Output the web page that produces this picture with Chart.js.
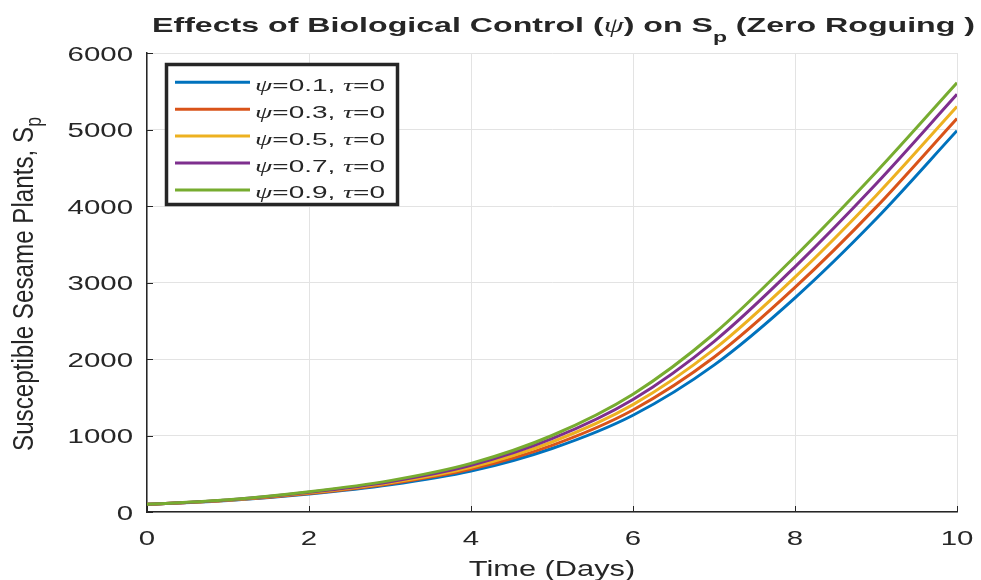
<!DOCTYPE html>
<html><head><meta charset="utf-8">
<script src="https://cdn.jsdelivr.net/npm/chart.js@4/dist/chart.umd.min.js"></script>
<style>html,body{margin:0;padding:0;background:#fff;overflow:hidden}#wrap{width:981px;height:580px;position:relative}</style>
</head><body><div id="wrap"><canvas id="c" width="981" height="580"></canvas></div>
<script>
// ---- data ----
const days = [0, 1, 2, 3, 4, 5, 6, 7, 8, 9, 10];
const sp_psi01 = [100, 150, 235, 355, 535, 830, 1265, 1920, 2800, 3830, 4985];
const sp_psi03 = [100, 152, 242, 369, 560, 872, 1334, 2022, 2935, 3982, 5145];
const sp_psi05 = [100, 155, 250, 383, 585, 915, 1403, 2125, 3070, 4135, 5300];
const sp_psi07 = [100, 158, 258, 396, 610, 958, 1471, 2228, 3205, 4288, 5460];
const sp_psi09 = [100, 160, 265, 410, 635, 1000, 1540, 2330, 3340, 4440, 5610];
const psiValues = ['0.1', '0.3', '0.5', '0.7', '0.9'];
const tauValue = '0';
const xTickValues = [0, 2, 4, 6, 8, 10];
const yTickValues = [0, 1000, 2000, 3000, 4000, 5000, 6000];
const titleParts = ['Effects of Biological Control (', '\u03C8', ') on S', 'p', ' (Zero Roguing )'];
const yTitleParts = ['Susceptible Sesame Plants, S', 'p'];
const xTitle = 'Time (Days)';

const colors = ['#0072BD', '#D95319', '#EDB120', '#7E2F8E', '#77AC30'];
const seriesValues = [sp_psi01, sp_psi03, sp_psi05, sp_psi07, sp_psi09];
const TXT = '#262626';
const SANS = '"Liberation Sans", Arial, sans-serif';
const SERIF = '"Liberation Serif", "DejaVu Serif", serif';

const datasets = seriesValues.map((vals, i) => ({
  label: '\u03C8=' + psiValues[i] + ', \u03C4=' + tauValue,
  data: days.map((d, j) => ({ x: d, y: vals[j] })),
  borderColor: colors[i],
  backgroundColor: colors[i],
  borderWidth: 3,
  pointRadius: 0,
  fill: false,
  cubicInterpolationMode: 'monotone',
  order: seriesValues.length - 1 - i
}));

// draw text pieces in a local (optionally rotated / stretched) frame
function drawParts(ctx, parts, x, y, opt) {
  const o = Object.assign({ rot: 0, sx: 1, sy: 1, align: 'left', fitWidth: null }, opt || {});
  let total = 0;
  const widths = parts.map(p => { ctx.font = p.font; const w = ctx.measureText(p.t).width; total += w; return w; });
  let sx = o.sx;
  if (o.fitWidth) sx = o.fitWidth / total;
  ctx.save();
  ctx.translate(x, y);
  ctx.rotate(o.rot);
  ctx.scale(sx, o.sy);
  let cx = 0;
  if (o.align === 'center') cx = -total / 2;
  else if (o.align === 'right') cx = -total;
  ctx.textBaseline = 'alphabetic';
  ctx.textAlign = 'left';
  parts.forEach((p, i) => {
    ctx.font = p.font;
    ctx.fillStyle = p.color || TXT;
    ctx.fillText(p.t, cx, p.dy || 0);
    cx += widths[i];
  });
  ctx.restore();
}

const decor = {
  id: 'decor',
  afterDraw(chart) {
    const ctx = chart.ctx;
    const xs = chart.scales.x, ys = chart.scales.y;
    const a = chart.chartArea;
    // inward ticks
    ctx.save();
    ctx.strokeStyle = TXT;
    ctx.lineWidth = 1;
    xs.ticks.forEach(t => {
      const px = Math.round(xs.getPixelForValue(t.value)) + 0.5;
      ctx.beginPath(); ctx.moveTo(px, a.bottom); ctx.lineTo(px, a.bottom - 6); ctx.stroke();
    });
    ys.ticks.forEach(t => {
      const py = Math.round(ys.getPixelForValue(t.value)) + 0.5;
      ctx.beginPath(); ctx.moveTo(a.left, py); ctx.lineTo(a.left + 6, py); ctx.stroke();
    });
    ctx.restore();
    // tick labels
    const tf = '21px ' + SANS;
    xs.ticks.forEach(t => {
      drawParts(ctx, [{ t: String(t.value), font: tf }], xs.getPixelForValue(t.value), a.bottom + 33, { sx: 1.4, align: 'center' });
    });
    ys.ticks.forEach(t => {
      drawParts(ctx, [{ t: String(t.value), font: tf }], a.left - 14, ys.getPixelForValue(t.value) + 7.5, { sx: 1.4, align: 'right' });
    });
    // x title
    drawParts(ctx, [{ t: xTitle, font: '22px ' + SANS }], (a.left + a.right) / 2, 576, { sx: 1.4, align: 'center' });
    // y title (rotated)
    drawParts(ctx, [
      { t: yTitleParts[0], font: '22px ' + SANS },
      { t: yTitleParts[1], font: '16px ' + SANS, dy: 6 }
    ], 33, 284, { rot: -Math.PI / 2, sx: 1.1, sy: 1.35, align: 'center' });
    // title
    const bf = 'bold 21px ' + SANS;
    drawParts(ctx, [
      { t: titleParts[0], font: bf },
      { t: titleParts[1], font: 'italic 21px ' + SERIF },
      { t: titleParts[2], font: bf },
      { t: titleParts[3], font: 'bold 15px ' + SANS, dy: 10 },
      { t: titleParts[4], font: bf }
    ], 152, 32, { fitWidth: 823 });
    // legend
    const lx = 166.5, ly = 64.5, lw = 231, lh = 140;
    ctx.save();
    ctx.fillStyle = '#fff';
    ctx.fillRect(lx, ly, lw, lh);
    ctx.strokeStyle = TXT;
    ctx.lineWidth = 3.5;
    ctx.strokeRect(lx, ly, lw, lh);
    ctx.restore();
    chart.data.datasets.forEach((ds, i) => {
      const cy = 82.3 + i * 26.9;
      ctx.save();
      ctx.strokeStyle = ds.borderColor;
      ctx.lineWidth = 3;
      ctx.beginPath(); ctx.moveTo(175, cy); ctx.lineTo(250, cy); ctx.stroke();
      ctx.restore();
      const lf = '17px ' + SANS, mf = 'italic 17px ' + SERIF;
      drawParts(ctx, [
        { t: '\u03C8', font: mf },
        { t: '=' + psiValues[i] + ', ', font: lf },
        { t: '\u03C4', font: mf },
        { t: '=' + tauValue, font: lf }
      ], 255, cy + 8.5, { fitWidth: 130 });
    });
  }
};

new Chart(document.getElementById('c'), {
  type: 'line',
  data: { datasets },
  options: {
    responsive: false,
    animation: false,
    devicePixelRatio: 1,
    layout: { padding: { left: 147, right: 24, top: 53, bottom: 68 } },
    plugins: { legend: { display: false }, title: { display: false }, tooltip: { enabled: false } },
    scales: {
      x: {
        type: 'linear', min: 0, max: 10,
        afterBuildTicks: s => { s.ticks = xTickValues.map(v => ({ value: v })); },
        ticks: { display: false },
        grid: { color: '#e3e3e3', lineWidth: 1, drawTicks: false },
        border: { display: true, color: TXT, width: 1.5 }
      },
      y: {
        type: 'linear', min: 0, max: 6000,
        afterBuildTicks: s => { s.ticks = yTickValues.map(v => ({ value: v })); },
        ticks: { display: false },
        grid: { color: '#e3e3e3', lineWidth: 1, drawTicks: false },
        border: { display: true, color: TXT, width: 1.5 }
      }
    }
  },
  plugins: [decor]
});
</script></body></html>
